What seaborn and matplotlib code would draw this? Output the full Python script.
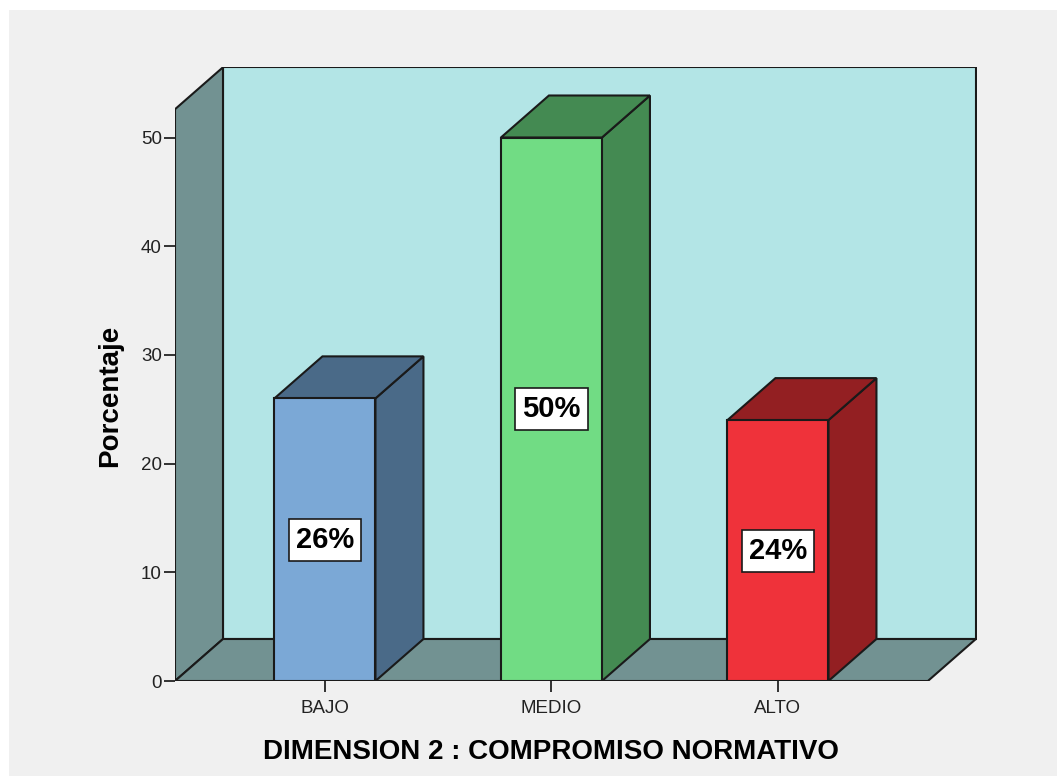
import matplotlib
matplotlib.use("Agg")
import matplotlib.pyplot as plt
from matplotlib.patches import Polygon, Rectangle
import seaborn as sns

# Data
categories = ["BAJO", "MEDIO", "ALTO"]
values = [26, 50, 24]
front_colors = ["#7ba8d6", "#71dc84", "#ef323a"]
shade_colors = ["#4a6a88", "#448a52", "#931f22"]
y_ticks = [0, 10, 20, 30, 40, 50]

x_title = "DIMENSION 2 : COMPROMISO NORMATIVO"
y_title = "Porcentaje"

sns.set_theme(style="white")
plt.rcParams["font.family"] = ["Liberation Sans", "DejaVu Sans"]

W, Hpx = 1057, 776
fig = plt.figure(figsize=(W / 100, Hpx / 100), dpi=100, facecolor="white")
fig.patches.append(Rectangle((9 / W, 0), 1, 1 - 10 / Hpx, transform=fig.transFigure,
                             facecolor="#f0f0f0", edgecolor="none", zorder=-10))

ax = fig.add_axes([175 / W, (Hpx - 681) / Hpx, 802 / W, 614 / Hpx])
ax.patch.set_visible(False)

edge = "#1a1a1a"
lw = 1.5

sns.barplot(x=categories, y=values, hue=categories, palette=front_colors,
            width=0.446, edgecolor=edge, linewidth=lw, legend=False,
            saturation=1, ax=ax, zorder=5)
bars = list(ax.patches)

# scale: 226.5 px per category, 10.87 px per percent
x0 = -0.662
ax.set_xlim(x0, x0 + 802 / 226.5)
ax.set_ylim(0, 614 / 10.87)
dx = 48 / 226.5
dy = 42 / 10.87
wall_h = 52.6
x1 = 2.662

wall = "#b3e5e6"
side = "#729292"

# back wall, left wall, floor
ax.add_patch(Polygon([(x0 + dx, dy), (x1 + dx, dy), (x1 + dx, wall_h + dy), (x0 + dx, wall_h + dy)],
                     closed=True, facecolor=wall, edgecolor=edge, lw=lw, zorder=1))
ax.add_patch(Polygon([(x0, 0), (x0 + dx, dy), (x0 + dx, wall_h + dy), (x0, wall_h)],
                     closed=True, facecolor=side, edgecolor=edge, lw=lw, zorder=2))
ax.add_patch(Polygon([(x0, 0), (x1, 0), (x1 + dx, dy), (x0 + dx, dy)],
                     closed=True, facecolor=side, edgecolor=edge, lw=lw, zorder=2))

# 3D side and top faces of each bar
for bar, shade, v in zip(bars, shade_colors, values):
    bx, bw, bh = bar.get_x(), bar.get_width(), bar.get_height()
    ax.add_patch(Polygon([(bx + bw, 0), (bx + bw + dx, dy), (bx + bw + dx, bh + dy), (bx + bw, bh)],
                         closed=True, facecolor=shade, edgecolor=edge, lw=lw, zorder=4))
    ax.add_patch(Polygon([(bx, bh), (bx + bw, bh), (bx + bw + dx, bh + dy), (bx + dx, bh + dy)],
                         closed=True, facecolor=shade, edgecolor=edge, lw=lw, zorder=4))
    ax.text(bx + bw / 2, bh / 2, f"{v}%", ha="center", va="center", fontsize=21,
            fontweight="bold", color="black", zorder=7,
            bbox=dict(boxstyle="square,pad=0.24", facecolor="white", edgecolor=edge, lw=1.2))

for s in ax.spines.values():
    s.set_visible(False)

ax.set_yticks(y_ticks)
ax.set_yticklabels([str(t) for t in y_ticks])
ax.tick_params(axis="both", direction="out", length=8, width=1.3, color="#222222",
               labelsize=13.5, labelcolor="#222222", bottom=True, left=True)
ax.tick_params(axis="y", pad=1.5)
ax.tick_params(axis="x", pad=6)
ax.set_xlabel("")
ax.set_ylabel("")
ax.grid(False)

fig.text(551 / W, 1 - 759 / Hpx, x_title, ha="center", va="baseline",
         fontsize=20, fontweight="bold", color="black")
fig.text(110 / W, 1 - 396 / Hpx, y_title, ha="center", va="center", rotation=90,
         fontsize=20, fontweight="bold", color="black")

fig.savefig("out.png", dpi=100, facecolor=fig.get_facecolor())
